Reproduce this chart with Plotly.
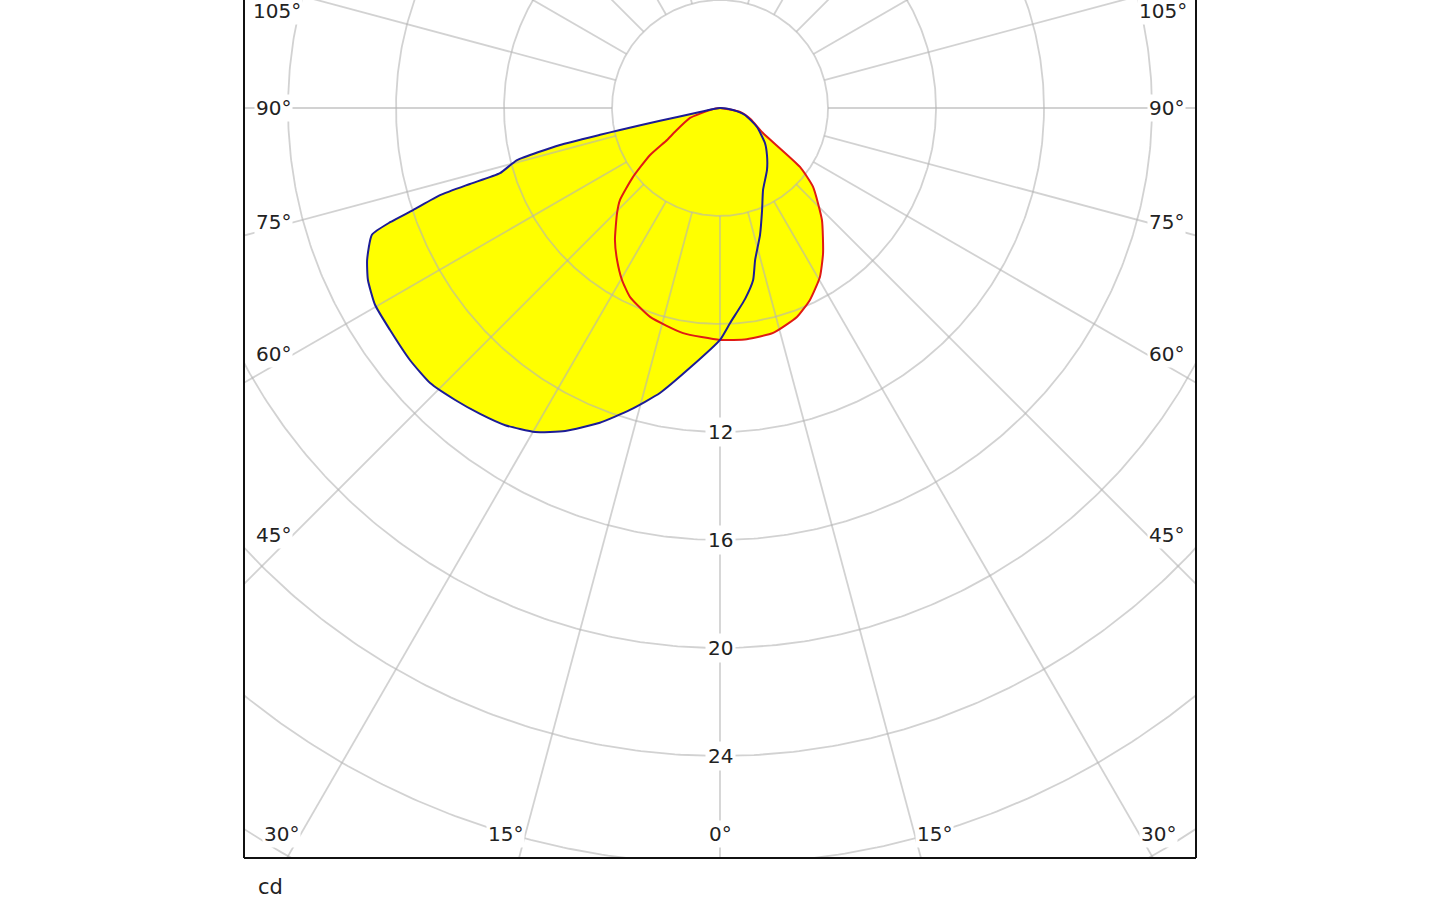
import numpy as np
import plotly.graph_objects as go

# ---------------- data ----------------
# gamma in degrees from nadir: negative = left half, positive = right half
blue_gamma = [-90, -78.7, -77.9, -77.6, -77.4, -77.0, -75.6, -73.5, -73.1, -72.7, -71.6, -70.9,
              -70.0, -66.7, -64.0, -60.3, -56.1, -50.9, -46.5, -42.2, -38.1, -34.1, -29.7,
              -25.6, -20.9, -16.6, -11.9, -6.6, 0.0, 2.7, 7.5, 10.9, 13.0, 17.5, 22.4, 27.7,
              37.2, 45.0, 52.1, 62.8, 74.4, 81.3, 90]
blue_cd = [0.0, 0.76, 2.27, 3.79, 4.55, 6.08, 7.76, 8.50, 9.68, 10.86, 11.98, 12.93,
           13.72, 14.23, 14.51, 14.71, 14.73, 14.80, 14.80, 14.60, 14.40, 14.19, 13.82,
           13.27, 12.48, 11.67, 10.79, 9.69, 8.59, 7.97, 7.13, 6.49, 5.78, 4.93, 4.09, 3.43,
           2.88, 2.46, 2.11, 1.54, 0.96, 0.49, 0.0]

red_gamma = [-90, -78.7, -71.6, -62.0, -58.9, -56.1, -51.6, -47.4, -44.4, -38.5, -34.1,
             -29.7, -25.5, -18.5, -9.3, 0.0, 6.6, 13.3, 20.2, 25.1, 30.6, 35.4, 42.3,
             49.7, 53.6, 59.8, 70.0, 78.7, 90]
red_cd = [0.0, 0.38, 1.17, 1.90, 2.29, 3.12, 4.11, 5.03, 5.45, 6.25, 6.80,
          7.33, 7.75, 8.16, 8.45, 8.59, 8.62, 8.56, 8.25, 7.85, 7.27, 6.59, 5.61,
          4.52, 3.68, 1.84, 1.20, 0.76, 0.0]

ring_values = [4, 8, 12, 16, 20, 24, 28, 32]
ring_labels = [12, 16, 20, 24]
angle_labels = [0, 15, 30, 45, 60, 75, 90, 105]
spoke_angles = list(range(0, 360, 15))
unit_label = "cd"

# ---------------- helpers ----------------
def to_xy(gamma, cd):
    g = np.radians(np.asarray(gamma, dtype=float))
    r = np.asarray(cd, dtype=float)
    return r * np.sin(g), -r * np.cos(g)

X_RANGE = [-17.63, 17.63]
Y_RANGE = [-27.78, 4.0]
INNER = ring_values[0]
OUTER = 45

FONT = "DejaVu Sans, Verdana, sans-serif"
GRID = "rgba(180,180,180,0.6)"
YELLOW = "#ffff00"
BLUE = "#1c1c96"
RED = "#e01a14"

fig = go.Figure()

# fills
bx, by = to_xy(blue_gamma, blue_cd)
rx, ry = to_xy(red_gamma, red_cd)
for xs, ys in [(bx, by), (rx, ry)]:
    fig.add_trace(go.Scatter(x=xs, y=ys, mode="lines", fill="toself", fillcolor=YELLOW,
                             line=dict(width=0, color=YELLOW, shape="spline", smoothing=0.5),
                             hoverinfo="skip"))

# grid (rings + spokes), drawn over the fill
gx, gy = [], []
t = np.linspace(0, 2 * np.pi, 721)
for rv in ring_values:
    gx += list(rv * np.cos(t)) + [None]
    gy += list(rv * np.sin(t)) + [None]
for a in spoke_angles:
    ar = np.radians(a)
    gx += [INNER * np.sin(ar), OUTER * np.sin(ar), None]
    gy += [-INNER * np.cos(ar), -OUTER * np.cos(ar), None]
fig.add_trace(go.Scatter(x=gx, y=gy, mode="lines", line=dict(color=GRID, width=1.8),
                         hoverinfo="skip"))

# outlines
fig.add_trace(go.Scatter(x=rx, y=ry, mode="lines",
                         line=dict(color=RED, width=2, shape="spline", smoothing=0.5),
                         hoverinfo="skip"))
fig.add_trace(go.Scatter(x=bx, y=by, mode="lines",
                         line=dict(color=BLUE, width=2, shape="spline", smoothing=0.5),
                         hoverinfo="skip"))

annotations = []
# radial value labels
for v in ring_labels:
    annotations.append(dict(x=0, y=-v, xref="x", yref="y", text=str(v), showarrow=False,
                            font=dict(family=FONT, size=20, color="#222"),
                            bgcolor="white", borderpad=2, xanchor="center", yanchor="middle"))

# angle labels along the frame
XB, YB, YT, XB_TOP = 15.8, 26.9, 3.6, 15.45
for a in angle_labels:
    sides = [0] if a == 0 else [-1, 1]
    for s in sides:
        g = np.radians(a)
        sx, sy = np.sin(g), -np.cos(g)
        ts = []
        if sx > 1e-9:
            ts.append(XB / sx)
        if sy < -1e-9:
            ts.append(YB / -sy)
        tt = min(ts)
        px, py = s * tt * sx, tt * sy
        if py > YT:
            px, py = s * XB_TOP, YT
        anchor = "center" if s == 0 else ("right" if s < 0 else "left")
        annotations.append(dict(x=px, y=py, xref="x", yref="y", text=f"{a}°", showarrow=False,
                                font=dict(family=FONT, size=20, color="#222"),
                                bgcolor="white", borderpad=1, xanchor=anchor, yanchor="middle"))

annotations.append(dict(x=0.0125, y=-0.034, xref="paper", yref="paper", text=unit_label,
                        showarrow=False, xanchor="left", yanchor="middle",
                        font=dict(family=FONT, size=21, color="#222")))

shapes = [
    dict(type="line", xref="paper", yref="paper", x0=0, x1=0, y0=0, y1=1.02,
         line=dict(color="#111", width=2)),
    dict(type="line", xref="paper", yref="paper", x0=1, x1=1, y0=0, y1=1.02,
         line=dict(color="#111", width=2)),
    dict(type="line", xref="paper", yref="paper", x0=0, x1=1, y0=0, y1=0,
         line=dict(color="#111", width=2)),
]

fig.update_layout(
    width=1440, height=900,
    margin=dict(l=244, r=244, t=0, b=42),
    paper_bgcolor="white", plot_bgcolor="white",
    showlegend=False,
    xaxis=dict(range=X_RANGE, visible=False, fixedrange=True),
    yaxis=dict(range=Y_RANGE, visible=False, fixedrange=True),
    annotations=annotations, shapes=shapes,
    hovermode=False,
)

fig.write_html("out.html",
               config={"displayModeBar": False, "staticPlot": True},
               post_script="document.body.style.margin='0px';document.body.style.padding='0px';"
                           "document.body.style.overflow='hidden';")
